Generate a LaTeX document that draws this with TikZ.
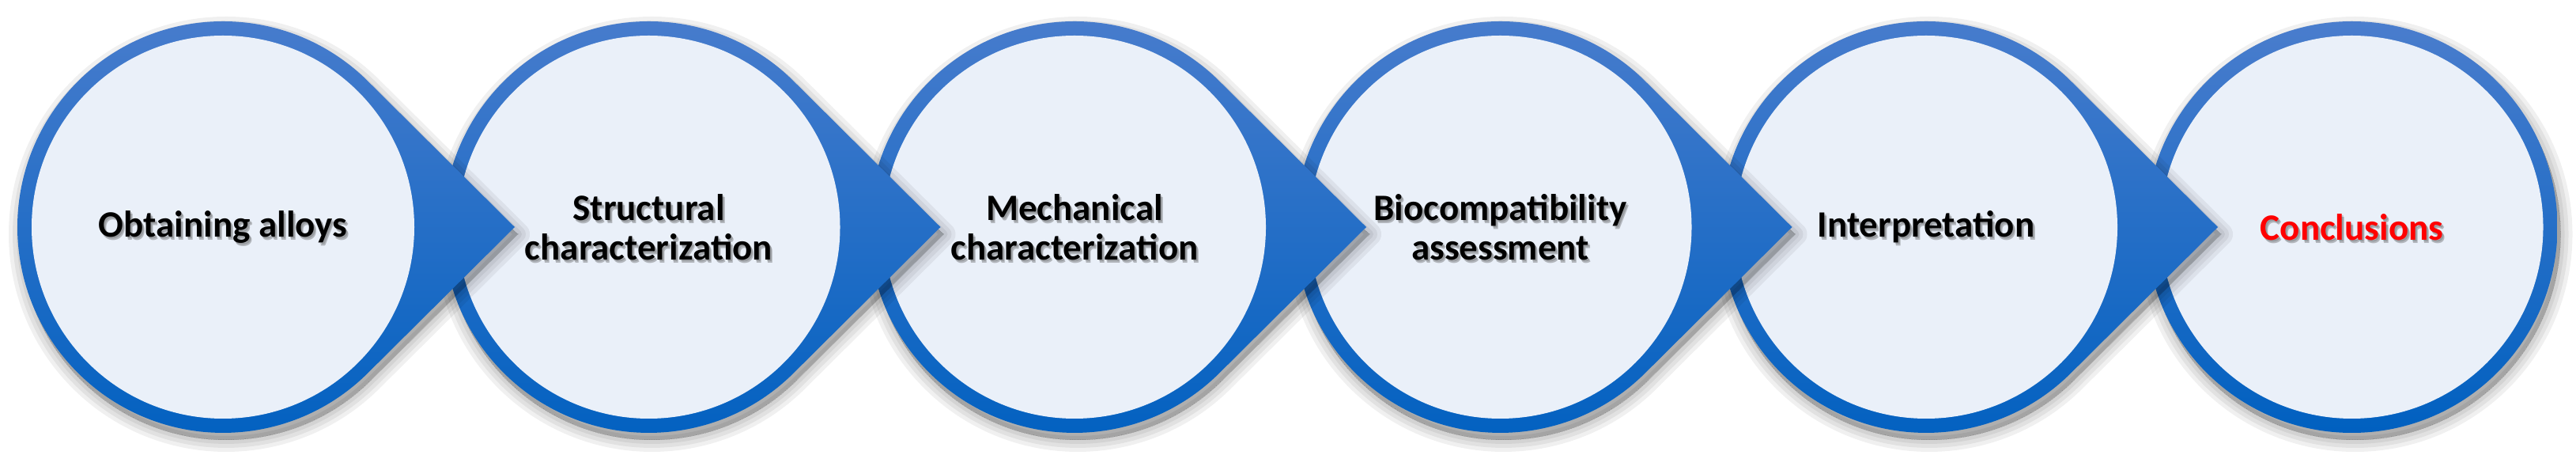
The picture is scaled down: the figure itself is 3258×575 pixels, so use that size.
\documentclass[tikz,border=0pt]{standalone}
\usepackage{fontspec}
\setmainfont{Carlito}
\usetikzlibrary{calc}
\definecolor{ringtop}{HTML}{4A7DCD}
\definecolor{ringbot}{HTML}{0060C0}
\definecolor{innerfill}{HTML}{EAF0F9}
\definecolor{concred}{HTML}{FF0000}
\tikzset{
  lbl/.style={align=center, font=\fontsize{47}{50}\selectfont\bfseries, inner sep=0pt},
  shadowlayer/.style={black, opacity=0.06, line join=round},
  ring/.style={top color=ringtop, bottom color=ringbot},
  hole/.style={fill=innerfill},
}
\newcommand\teardrop[1]{(#1+183.2,288+184.5) arc[start angle=45.2,end angle=314.8,radius=260] -- (#1+369,288) -- cycle}
\newcommand\plaindisc[1]{(#1,288) circle[radius=260]}
% #1 name, #2 centre x, #3 text colour, #4 text, #5 outline macro
\newcommand\stage[5]{%
  \coordinate (#1) at (#2,288);
  \foreach \w in {30,20,10,0}{%
    \filldraw[shadowlayer, line width=\w, shift={(4,-9)}] #5{#2};
  }
  \shade[ring] #5{#2};
  \fill[hole] (#1) circle[radius=242];
  \node[lbl, text=black!70, opacity=0.35] at ($(#1)+(3,-4)$) {#4};
  \node[lbl, text=black!70, opacity=0.25] at ($(#1)+(2,-2)$) {#4};
  \node[lbl, text=#3] (#1t) at (#1) {#4};
}
\begin{document}
\begin{tikzpicture}[x=1pt,y=1pt]
\useasboundingbox (0,0) rectangle (3258,575);
\fill[white] (0,0) rectangle (3258,575);
\stage{s6}{2974.5}{concred}{Conclusions}{\plaindisc}
\stage{s5}{2436}{black}{Interpretation}{\teardrop}
\stage{s4}{1897.5}{black}{Biocompatibility\\assessment}{\teardrop}
\stage{s3}{1359}{black}{Mechanical\\characterization}{\teardrop}
\stage{s2}{820.5}{black}{Structural\\characterization}{\teardrop}
\stage{s1}{282}{black}{Obtaining alloys}{\teardrop}
\end{tikzpicture}
\end{document}
